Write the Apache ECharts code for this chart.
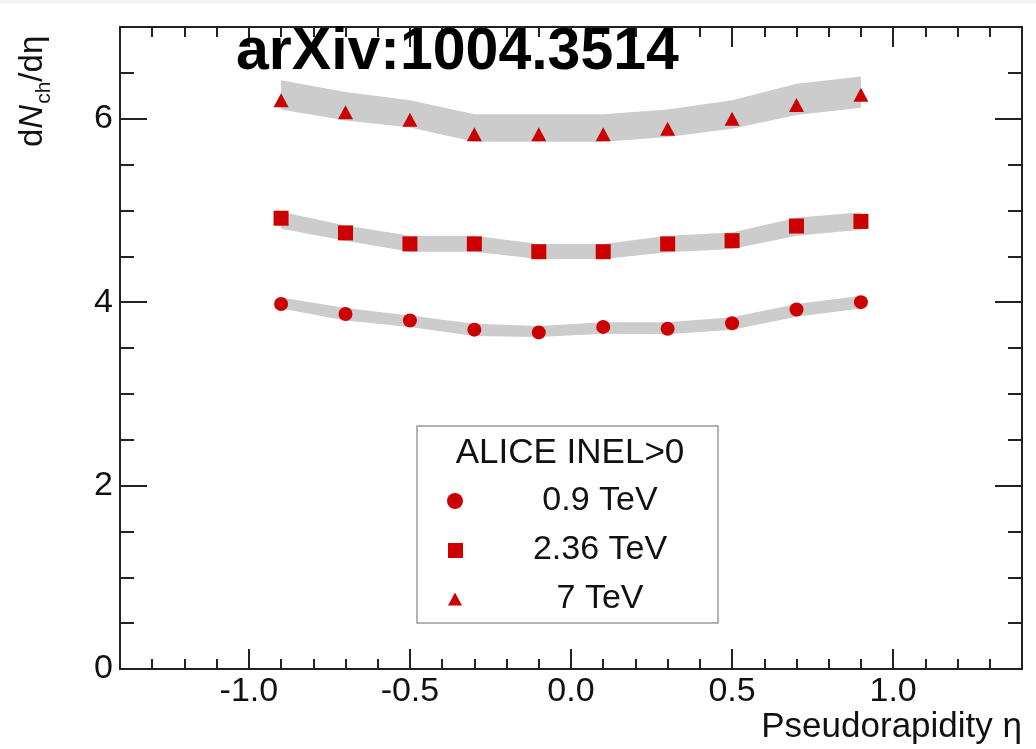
<!DOCTYPE html>
<html>
<head>
<meta charset="utf-8">
<script src="https://cdn.jsdelivr.net/npm/echarts@6/dist/echarts.min.js"></script>
<style>
  html, body { margin: 0; padding: 0; background: #ffffff; }
  #chart { width: 1036px; height: 749px; }
</style>
</head>
<body>
<div id="chart"></div>
<script>
// Pseudorapidity bin centres
const eta = [-0.9, -0.7, -0.5, -0.3, -0.1, 0.1, 0.3, 0.5, 0.7, 0.9];

// dNch/deta, 0.9 TeV, with systematic band edges
const dndeta09 = [3.98, 3.87, 3.80, 3.70, 3.67, 3.73, 3.71, 3.77, 3.92, 4.00];
const band09Lo = [3.93, 3.80, 3.73, 3.63, 3.62, 3.655, 3.65, 3.70, 3.84, 3.93];
const band09Hi = [4.05, 3.935, 3.855, 3.765, 3.74, 3.78, 3.78, 3.836, 3.98, 4.07];

// dNch/deta, 2.36 TeV
const dndeta236 = [4.915, 4.755, 4.635, 4.635, 4.55, 4.55, 4.635, 4.67, 4.83, 4.88];
const band236Lo = [4.80, 4.67, 4.55, 4.55, 4.47, 4.47, 4.545, 4.58, 4.725, 4.79];
const band236Hi = [4.985, 4.835, 4.725, 4.725, 4.635, 4.635, 4.725, 4.76, 4.92, 4.98];

// dNch/deta, 7 TeV
const dndeta7 = [6.20, 6.07, 5.99, 5.83, 5.83, 5.83, 5.89, 6.00, 6.15, 6.26];
const band7Lo = [6.10, 5.98, 5.905, 5.75, 5.75, 5.75, 5.80, 5.89, 6.04, 6.12];
const band7Hi = [6.42, 6.29, 6.20, 6.05, 6.05, 6.05, 6.10, 6.20, 6.38, 6.46];

// Axis ticks
const xMajorTicks = [-1.0, -0.5, 0.0, 0.5, 1.0];
const yMajorTicks = [0, 2, 4, 6];

// Legend
const legendTitle = 'ALICE INEL>0';
const seriesNames = ['0.9 TeV', '2.36 TeV', '7 TeV'];
const seriesSymbols = ['circle', 'rect', 'triangle'];

const FONT = '"Liberation Sans", Arial, Helvetica, sans-serif';
const RED = '#cc0000';
const BAND = '#cccccc';
const AXIS = '#222222';
const X_MIN = -1.4, X_MAX = 1.4, Y_MIN = 0, Y_MAX = 7;

function minorSteps(min, max, step, majors) {
  const out = [];
  const n = Math.round((max - min) / step);
  for (let i = 1; i < n; i++) {
    const v = +(min + i * step).toFixed(6);
    if (!majors.some(m => Math.abs(m - v) < 1e-9)) out.push(v);
  }
  return out;
}
const xMinorTicks = minorSteps(X_MIN, X_MAX, 0.1, xMajorTicks);
const yMinorTicks = minorSteps(Y_MIN, Y_MAX, 0.5, yMajorTicks);

const labelStyle = { fontSize: 34, fontFamily: FONT, color: '#111' };

function xAxisDef(position, ticks, len, withLine, withLabels) {
  return {
    type: 'value', gridIndex: 0, position: position, min: X_MIN, max: X_MAX,
    axisLine: { show: withLine, onZero: false, lineStyle: { color: AXIS, width: 2 } },
    axisTick: { show: true, inside: true, length: len, customValues: ticks, lineStyle: { color: AXIS, width: 2 } },
    axisLabel: Object.assign({ show: withLabels, customValues: ticks, margin: 6,
      formatter: v => Number(v).toFixed(1) }, labelStyle),
    splitLine: { show: false }
  };
}
function yAxisDef(position, ticks, len, withLine, withLabels) {
  return {
    type: 'value', gridIndex: 0, position: position, min: Y_MIN, max: Y_MAX,
    axisLine: { show: withLine, onZero: false, lineStyle: { color: AXIS, width: 2 } },
    axisTick: { show: true, inside: true, length: len, customValues: ticks, lineStyle: { color: AXIS, width: 2 } },
    axisLabel: Object.assign({ show: withLabels, customValues: ticks, margin: 7,
      formatter: v => String(v) }, labelStyle),
    splitLine: { show: false }
  };
}

function bandSeries(lo, hi) {
  return {
    type: 'custom', xAxisIndex: 0, yAxisIndex: 0, silent: true, z: 1,
    data: [[0, 0]],
    renderItem: function (params, api) {
      const pts = [];
      for (let i = 0; i < eta.length; i++) pts.push(api.coord([eta[i], hi[i]]));
      for (let i = eta.length - 1; i >= 0; i--) pts.push(api.coord([eta[i], lo[i]]));
      return { type: 'polygon', shape: { points: pts }, style: { fill: BAND, stroke: null } };
    }
  };
}
function pointSeries(idx, vals, size) {
  return {
    type: 'scatter', name: seriesNames[idx], xAxisIndex: 0, yAxisIndex: 0, z: 3,
    symbol: seriesSymbols[idx], symbolSize: size,
    itemStyle: { color: RED, opacity: 1 },
    data: eta.map((x, i) => [x, vals[i]])
  };
}

// y-axis title built from pieces: d, italic N, subscript ch, /dη
const measureCtx = document.createElement('canvas').getContext('2d');
function textWidth(t, size, style) {
  measureCtx.font = (style || '') + ' ' + size + 'px "Liberation Sans"';
  return measureCtx.measureText(t).width;
}
const yTitleParts = [
  { t: 'd', size: 33, style: 'normal', sub: false },
  { t: 'N', size: 33, style: 'italic', sub: false },
  { t: 'ch', size: 21, style: 'normal', sub: true },
  { t: '/d\u03b7', size: 33, style: 'normal', sub: false }
];
const yTitleChildren = [];
let cursor = 0;
yTitleParts.forEach(p => {
  const baseline = p.sub ? 7 : 0;
  yTitleChildren.push({
    type: 'text', x: cursor, y: baseline - 0.3465 * p.size,
    style: { text: p.t, fontSize: p.size, fontStyle: p.style, fontFamily: FONT, fill: '#111',
      align: 'left', verticalAlign: 'middle' }
  });
  cursor += textWidth(p.t, p.size, p.style) + (p.style === 'italic' ? 1 : 0);
});

// Legend box content
const legendRows = [501, 550, 599];
const legendGraphics = [
  { type: 'rect', shape: { x: 417, y: 426, width: 301, height: 197 },
    style: { fill: '#ffffff', stroke: '#9a9a9a', lineWidth: 1.5 }, z: 10 },
  { type: 'text', x: 570, y: 453, z: 11,
    style: { text: legendTitle, fontSize: 35, fontFamily: FONT, fill: '#111', align: 'center', verticalAlign: 'middle' } }
];
seriesNames.forEach((name, i) => {
  legendGraphics.push({ type: 'text', x: 600, y: legendRows[i], z: 11,
    style: { text: name, fontSize: 34, fontFamily: FONT, fill: '#111', align: 'center', verticalAlign: 'middle' } });
});
legendGraphics.push(
  { type: 'circle', shape: { cx: 455, cy: legendRows[0], r: 8 }, style: { fill: RED }, z: 11 },
  { type: 'rect', shape: { x: 448, y: legendRows[1] - 7, width: 15, height: 15 }, style: { fill: RED }, z: 11 },
  { type: 'polygon', shape: { points: [[455, legendRows[2] - 6.5], [462, legendRows[2] + 6.5], [448, legendRows[2] + 6.5]] },
    style: { fill: RED }, z: 11 }
);

const chart = echarts.init(document.getElementById('chart'), null, { renderer: 'canvas' });
chart.setOption({
  animation: false,
  backgroundColor: '#ffffff',
  grid: { left: 120, right: 14, top: 27, bottom: 80, containLabel: false },
  xAxis: [
    xAxisDef('bottom', xMajorTicks, 20, true, true),
    xAxisDef('bottom', xMinorTicks, 10, false, false),
    xAxisDef('top', xMajorTicks, 20, true, false),
    xAxisDef('top', xMinorTicks, 10, false, false)
  ],
  yAxis: [
    yAxisDef('left', yMajorTicks, 27, true, true),
    yAxisDef('left', yMinorTicks, 14, false, false),
    yAxisDef('right', yMajorTicks, 27, true, false),
    yAxisDef('right', yMinorTicks, 14, false, false)
  ],
  series: [
    bandSeries(band09Lo, band09Hi),
    bandSeries(band236Lo, band236Hi),
    bandSeries(band7Lo, band7Hi),
    pointSeries(0, dndeta09, 14),
    pointSeries(1, dndeta236, 15),
    pointSeries(2, dndeta7, [15, 14])
  ],
  graphic: [
    { type: 'rect', shape: { x: 0, y: 0, width: 1036, height: 3 }, style: { fill: '#f1f1f1' }, z: 0 },
    { type: 'text', x: 236, y: 53, z: 20,
      style: { text: 'arXiv:1004.3514', fontSize: 59, fontWeight: 'bold', fontFamily: FONT, fill: '#000',
        align: 'left', verticalAlign: 'middle' } },
    { type: 'text', x: 1022, y: 727, z: 20,
      style: { text: 'Pseudorapidity \u03b7', fontSize: 35, fontFamily: FONT, fill: '#111',
        align: 'right', verticalAlign: 'middle' } },
    { type: 'group', x: 44, y: 147, rotation: Math.PI / 2, z: 20, children: yTitleChildren }
  ].concat(legendGraphics)
});
</script>
</body>
</html>
